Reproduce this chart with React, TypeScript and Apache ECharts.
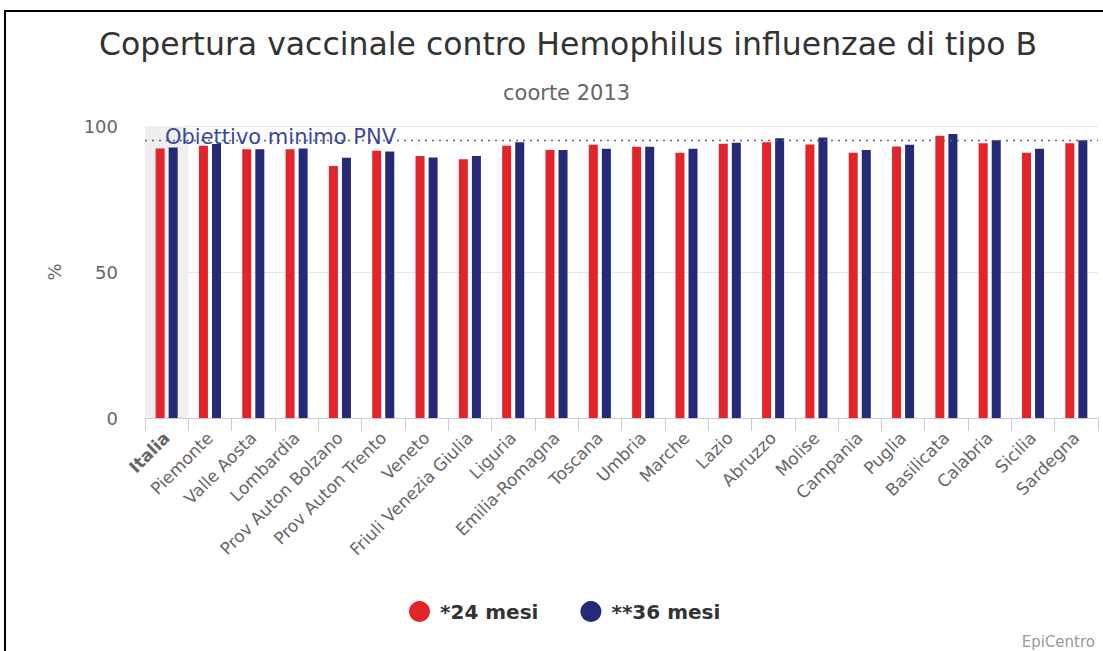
import React, { useEffect, useRef } from "react";
import * as echarts from "echarts";

const categories = [
  "Italia", "Piemonte", "Valle Aosta", "Lombardia", "Prov Auton Bolzano", "Prov Auton Trento",
  "Veneto", "Friuli Venezia Giulia", "Liguria", "Emilia-Romagna", "Toscana", "Umbria",
  "Marche", "Lazio", "Abruzzo", "Molise", "Campania", "Puglia", "Basilicata", "Calabria",
  "Sicilia", "Sardegna",
];
const mesi24 = [92.3, 93.2, 92.0, 92.0, 86.3, 91.5, 89.7, 88.6, 93.2, 91.8, 93.6, 92.9, 90.8, 93.9, 94.4, 93.7, 90.8, 93.0, 96.7, 94.1, 90.8, 94.1];
const mesi36 = [92.6, 93.8, 92.0, 92.3, 89.1, 91.3, 89.2, 89.7, 94.4, 91.8, 92.2, 92.9, 92.2, 94.3, 95.8, 96.1, 91.8, 93.6, 97.3, 95.1, 92.2, 95.1];
const objective = 95;
const yTicks = { min: 0, max: 100, interval: 50 };

const RED = "#e3242b";
const BLUE = "#252a78";
const FONT = "DejaVu Sans";

export default function App() {
  const ref = useRef<HTMLDivElement>(null);
  useEffect(() => {
    if (!ref.current) return;
    const chart = echarts.init(ref.current, null, { renderer: "svg" });
    const splitColors = categories.map((_, i) => (i === 0 ? "#efefef" : "rgba(0,0,0,0)"));
    chart.setOption({
      animation: false,
      textStyle: { fontFamily: FONT },
      title: [
        {
          text: "Copertura vaccinale contro Hemophilus influenzae di tipo B",
          left: 94,
          top: 23,
          textStyle: { fontFamily: FONT, fontSize: 31.5, fontWeight: "normal", color: "#333" },
        },
        {
          text: "coorte 2013",
          left: 498,
          top: 77,
          textStyle: { fontFamily: FONT, fontSize: 21, fontWeight: "normal", color: "#666" },
        },
      ],
      legend: {
        left: 404,
        top: 596,
        icon: "circle",
        itemWidth: 21,
        itemHeight: 21,
        itemGap: 42,
        textStyle: { fontFamily: FONT, fontSize: 20, fontWeight: "bold", color: "#333", padding: [0, 0, 0, 5] },
        data: ["*24 mesi", "**36 mesi"],
      },
      grid: { left: 145, right: 5, top: 126, bottom: 233, containLabel: false },
      xAxis: {
        type: "category",
        data: categories,
        axisLine: { lineStyle: { color: "#cccccc" } },
        axisTick: { show: true, length: 13, lineStyle: { color: "#cccccc" } },
        splitArea: { show: true, areaStyle: { color: splitColors } },
        axisLabel: {
          rotate: 45,
          interval: 0,
          margin: 17,
          fontFamily: FONT,
          fontSize: 17,
          color: "#666",
          formatter: (v: string, i: number) => (i === 0 ? `{b|${v}}` : v),
          rich: { b: { fontWeight: "bold", fontFamily: FONT, fontSize: 17, color: "#666" } },
        },
      },
      yAxis: {
        type: "value",
        min: yTicks.min,
        max: yTicks.max,
        interval: yTicks.interval,
        name: "%",
        nameLocation: "middle",
        nameGap: 82,
        nameRotate: 90,
        nameTextStyle: { fontFamily: FONT, fontSize: 18, color: "#666" },
        axisLine: { show: false },
        axisTick: { show: false },
        axisLabel: { margin: 27, fontFamily: FONT, fontSize: 18, color: "#666" },
        splitLine: { lineStyle: { color: "#e6e6e6" } },
      },
      series: [
        {
          name: "*24 mesi",
          type: "bar",
          data: mesi24,
          barWidth: 9,
          barGap: "45%",
          itemStyle: { color: RED },
          markLine: {
            silent: true,
            symbol: "none",
            lineStyle: { type: [2, 5], color: "#666", width: 1.3 },
            label: {
              show: true,
              position: "insideStartTop",
              distance: [20, -7],
              formatter: "Obiettivo minimo PNV",
              fontFamily: FONT,
              fontSize: 21,
              color: "#3b4a9c",
            },
            data: [{ yAxis: objective }],
          },
        },
        {
          name: "**36 mesi",
          type: "bar",
          data: mesi36,
          barWidth: 9,
          itemStyle: { color: BLUE },
        },
      ],
      graphic: [
        {
          type: "rect",
          shape: { x: 5, y: 11, width: 1300, height: 800 },
          style: { fill: "none", stroke: "#000", lineWidth: 2 },
          silent: true,
        },
        {
          type: "text",
          right: 8,
          bottom: 2,
          style: { text: "EpiCentro", fontFamily: FONT, fontSize: 15, fill: "#999" },
        },
      ],
    });
    return () => chart.dispose();
  }, []);
  return (
    <div style={{ position: "fixed", left: 0, top: 0, width: 1103, height: 651, background: "#fff" }}>
      <div ref={ref} style={{ width: 1103, height: 651 }} />
    </div>
  );
}
